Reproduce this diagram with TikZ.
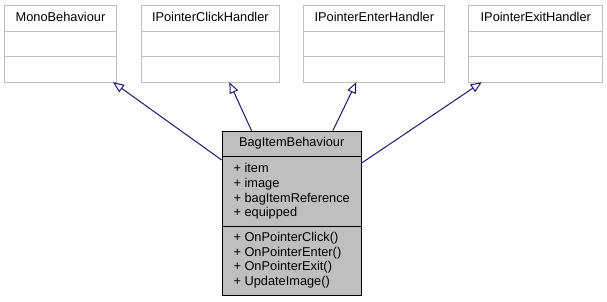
\documentclass[tikz,border=0pt]{standalone}
\usepackage{fontspec}
\setmainfont{Liberation Sans}
\usetikzlibrary{arrows.meta,calc}
\definecolor{boxgray}{RGB}{191,191,191}
\definecolor{edgeblue}{RGB}{25,25,112}
\begin{document}
\begin{tikzpicture}[x=1pt,y=-1pt,
  classbox/.style={draw=boxgray, line width=1pt, fill=white, rectangle, inner sep=0pt, anchor=north west},
  mainbox/.style={draw=black, line width=1pt, fill=boxgray, rectangle, inner sep=0pt, anchor=north west},
  label/.style={font=\fontsize{12.8pt}{14.7pt}\selectfont, inner sep=0pt},
  member/.style={label, anchor=base west},
  inherit/.style={draw=edgeblue, line width=1pt, -{Triangle[open, length=11pt, width=9pt, fill=white]}}]
\useasboundingbox (0,0) rectangle (607,301);

% base classes and interfaces
\foreach \name/\xl/\xr/\txt in {mono/4/116/MonoBehaviour,
                               click/140.7/279/IPointerClickHandler,
                               enter/303.3/444.3/IPointerEnterHandler,
                               exitc/468.3/602.3/IPointerExitHandler}{
  \node[classbox, minimum width={\xr-\xl}, minimum height=76.7] (\name) at (\xl,5) {};
  \draw[boxgray, line width=1pt] ([yshift=-26]\name.north west) -- ([yshift=-26]\name.north east);
  \draw[boxgray, line width=1pt] ([yshift=-51.5]\name.north west) -- ([yshift=-51.5]\name.north east);
  \node[label, anchor=base] (\name t) at ($(\name.north)+(0,16.7)$) {\txt};
}

% the derived class
\node[mainbox, minimum width=139, minimum height=164] (bag) at (221.7,131) {};
\draw[black, line width=1pt] ([yshift=-25.7]bag.north west) -- ([yshift=-25.7]bag.north east);
\draw[black, line width=1pt] ([yshift=-95]bag.north west) -- ([yshift=-95]bag.north east);
\node[label, anchor=base] (bagt) at ($(bag.north)+(0,15.5)$) {BagItemBehaviour};

\foreach \i/\txt in {0/item, 1/image, 2/bagItemReference, 3/equipped}{
  \node[member] (attr\i) at (233.3,{172.8+14.7*\i}) {+ \txt};
}
\foreach \i/\txt in {0/OnPointerClick(), 1/OnPointerEnter(), 2/OnPointerExit(), 3/UpdateImage()}{
  \node[member] (meth\i) at (233.3,{241.5+14.7*\i}) {+ \txt};
}

% inheritance arrows
\draw[inherit] ([yshift=-29]bag.north west) -- ([xshift=-4,yshift=0.5]mono.south east);
\draw[inherit] ([xshift=30]bag.north west) -- ([xshift=19,yshift=0.5]click.south);
\draw[inherit] ([xshift=-29]bag.north east) -- ([xshift=-18,yshift=0.5]enter.south);
\draw[inherit] ([yshift=-32]bag.north east) -- ([xshift=13.4,yshift=0.5]exitc.south west);
\end{tikzpicture}
\end{document}
